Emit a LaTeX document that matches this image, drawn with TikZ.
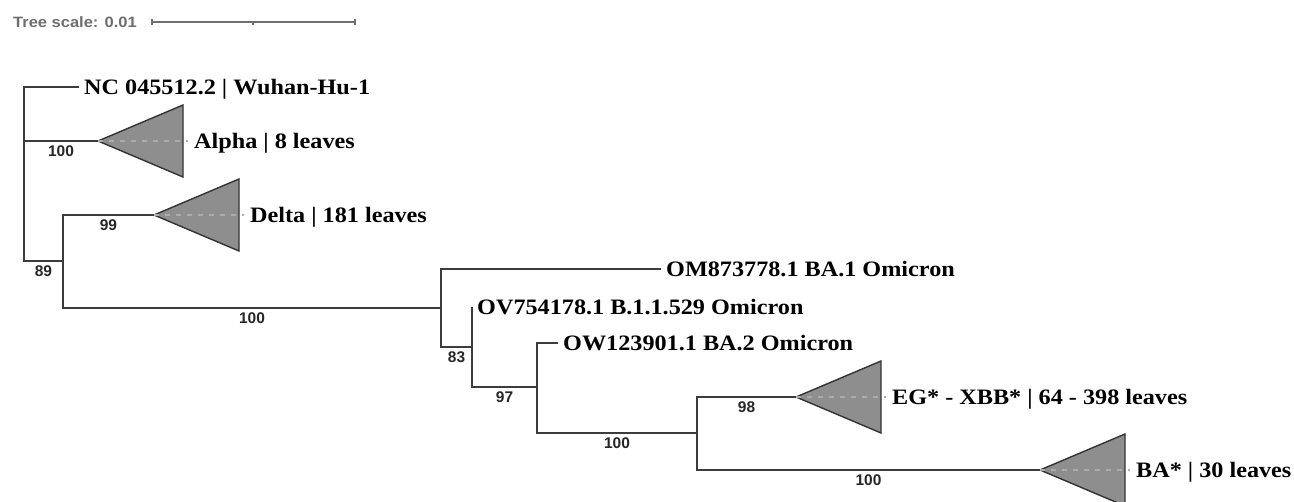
\documentclass[tikz,border=0pt]{standalone}
\usepackage{fontspec}
\setmainfont{Liberation Serif}
\setsansfont{Liberation Sans}
\newfontfamily\leaffont[FakeStretch=1.1]{Liberation Serif}
\newfontfamily\bootfont{Liberation Sans}
\newfontfamily\scalefont[FakeStretch=1.1]{Liberation Sans}
\usepackage{tikz}
\usetikzlibrary{positioning}
\usepackage{xcolor}
\definecolor{branchgray}{HTML}{3C3C3C}
\definecolor{cladefill}{HTML}{8E8E8E}
\definecolor{dashgray}{HTML}{ACACAC}
\definecolor{scalegray}{HTML}{6E6E6E}
\tikzstyle{branch} = [line width=1.6pt, draw=branchgray]
\tikzstyle{clade} = [line width=1.4pt, draw=black!80, fill=cladefill, line join=miter]
\tikzstyle{dashline} = [line width=1.2pt, draw=dashgray, dash pattern=on 5pt off 6pt]
\tikzstyle{leaf} = [anchor=west, inner xsep=5pt, inner ysep=0pt, text height=14.5pt, text depth=0pt, font=\leaffont\fontsize{22}{26}\selectfont\bfseries]
\tikzstyle{boot} = [below=3pt, inner sep=1pt, text=black!85, font=\bootfont\fontsize{15.5}{18}\selectfont\bfseries]
\tikzstyle{scaletext} = [anchor=west, inner sep=0pt, text=scalegray, font=\scalefont\fontsize{15}{18}\selectfont\bfseries]
\tikzstyle{scalebar} = [line width=1.4pt, draw=scalegray]

\begin{document}
\begin{tikzpicture}[x=1pt, y=-1pt]
        \useasboundingbox (0,0) rectangle (1294,502);
        % scale bar
        \node (scalelab) [scaletext] at (13,22) {Tree scale: 0.01};
        \coordinate (sbl) at (152,22);
        \coordinate (sbr) at (355,22);
        \draw [scalebar] (sbl) -- (sbr);
        \draw [scalebar] (152,19) -- (152,25);
        \draw [scalebar] (355,19) -- (355,25);
        \draw [scalebar] (253,22) -- (253,25);

        % internal nodes
        \coordinate (nroot) at (24,174);
        \coordinate (nd) at (63,261);
        \coordinate (nom) at (441,308);
        \coordinate (nov) at (472,347);
        \coordinate (now) at (537,387);
        \coordinate (nxbb) at (697,433);

        % leaves
        \node (wuhan) [leaf] at (79,87) {NC 045512.2 | Wuhan-Hu-1};
        \node (ba1) [leaf] at (661,269) {OM873778.1 BA.1 Omicron};
        \node (b11529) [leaf] at (472,307) {OV754178.1 B.1.1.529 Omicron};
        \node (ba2) [leaf] at (558,343) {OW123901.1 BA.2 Omicron};

        % collapsed clades
        \coordinate (alpha) at (98,141);
        \coordinate (delta) at (154,215);
        \coordinate (xbb) at (796,397);
        \coordinate (ba) at (1040,470);
        \filldraw [clade] (alpha) -- ++(85,-36) -- ++(0,72) -- cycle;
        \filldraw [clade] (delta) -- ++(85,-36) -- ++(0,72) -- cycle;
        \filldraw [clade] (xbb) -- ++(85,-36) -- ++(0,72) -- cycle;
        \filldraw [clade] (ba) -- ++(85,-36) -- ++(0,72) -- cycle;
        \draw [dashline] (alpha) -- ++(90,0) coordinate (alphaend);
        \draw [dashline] (delta) -- ++(90,0) coordinate (deltaend);
        \draw [dashline] (xbb) -- ++(90,0) coordinate (xbbend);
        \draw [dashline] (ba) -- ++(90,0) coordinate (baend);
        \node (alphalab) [leaf, inner xsep=6pt] at (alphaend) {Alpha | 8 leaves};
        \node (deltalab) [leaf, inner xsep=6pt] at (deltaend) {Delta | 181 leaves};
        \node (xbblab) [leaf, inner xsep=6pt] at (xbbend) {EG* - XBB* | 64 - 398 leaves};
        \node (balab) [leaf, inner xsep=6pt] at (baend) {BA* | 30 leaves};

        % branches
        \draw [branch] (nroot) |- (wuhan.west);
        \draw [branch] (nroot) |- node[boot, pos=0.75] {100} (alpha);
        \draw [branch] (nroot) |- node[boot, pos=0.75] {89} (nd);
        \draw [branch] (nd) |- node[boot, pos=0.75] {99} (delta);
        \draw [branch] (nd) |- node[boot, pos=0.75] {100} (nom);
        \draw [branch] (nom) |- (ba1.west);
        \draw [branch] (nom) |- node[boot, pos=0.75] {83} (nov);
        \draw [branch] (nov) |- (b11529.west);
        \draw [branch] (nov) |- node[boot, pos=0.75] {97} (now);
        \draw [branch] (now) |- (ba2.west);
        \draw [branch] (now) |- node[boot, pos=0.75] {100} (nxbb);
        \draw [branch] (nxbb) |- node[boot, pos=0.75] {98} (xbb);
        \draw [branch] (nxbb) |- node[boot, pos=0.75] {100} (ba);
\end{tikzpicture}
\end{document}
